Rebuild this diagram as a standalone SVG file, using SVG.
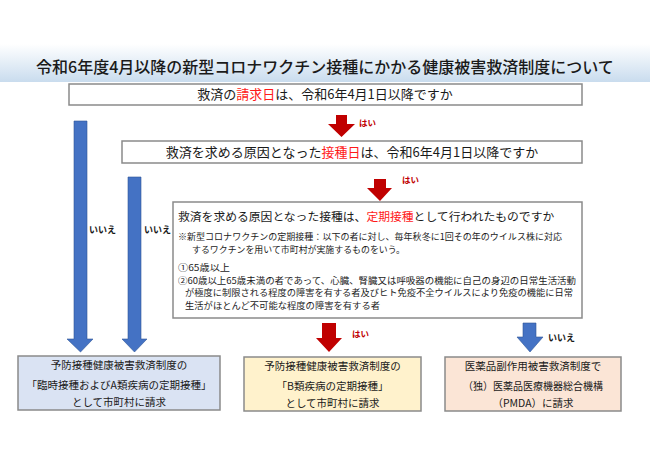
<svg xmlns="http://www.w3.org/2000/svg" width="650" height="459" viewBox="0 0 650 459">
<defs>
<linearGradient id="band" x1="0" y1="0" x2="0" y2="1">
<stop offset="0" stop-color="#ffffff"/>
<stop offset="1" stop-color="#c9dcee"/>
</linearGradient>
</defs>
<style>
text{font-family:"Noto Sans CJK JP","Noto Sans",sans-serif;fill:#1a1a1a}
.box{fill:#ffffff;stroke:#8a8a8a;stroke-width:1.5}
.q{font-size:13px;text-anchor:middle}
.red{fill:#ff1a1a}
.blue{fill:#4472c4;stroke:#2f5597;stroke-width:0.6}
.rarr{fill:#c00000}
.yes{font-size:8.5px;font-weight:700;fill:#c00000}
.no{font-size:9px;font-weight:700;fill:#1a1a1a}
.res{font-size:10.5px;text-anchor:middle}
.note{font-size:8.7px}
</style>
<rect width="650" height="459" fill="#ffffff"/>
<rect x="0" y="44" width="650" height="38" fill="url(#band)"/>
<text x="325" y="73" style="font-size:16px;font-weight:500;text-anchor:middle">令和6年度4月以降の新型コロナワクチン接種にかかる健康被害救済制度について</text>

<g id="q1">
<rect class="box" x="69" y="84" width="513" height="21"/>
<text class="q" x="325" y="99">救済の<tspan class="red">請求日</tspan>は、令和6年4月1日以降ですか</text>
</g>
<g id="q2">
<rect class="box" x="122" y="141" width="460" height="22"/>
<text class="q" x="352" y="157">救済を求める原因となった<tspan class="red">接種日</tspan>は、令和6年4月1日以降ですか</text>
</g>
<g id="q3">
<rect class="box" x="173" y="202" width="409" height="116"/>
<text x="178" y="221" style="font-size:11.8px">救済を求める原因となった接種は、<tspan class="red">定期接種</tspan>として行われたものですか</text>
<text class="note" x="178" y="240" textLength="384" lengthAdjust="spacingAndGlyphs">※新型コロナワクチンの定期接種：以下の者に対し、毎年秋冬に1回その年のウイルス株に対応</text>
<text class="note" x="192" y="253" textLength="213" lengthAdjust="spacingAndGlyphs">するワクチンを用いて市町村が実施するものをいう。</text>
<text class="note" x="178" y="271" textLength="52" lengthAdjust="spacingAndGlyphs">①65歳以上</text>
<text class="note" x="178" y="283.5" textLength="398" lengthAdjust="spacingAndGlyphs">②60歳以上65歳未満の者であって、心臓、腎臓又は呼吸器の機能に自己の身辺の日常生活活動</text>
<text class="note" x="185" y="296" textLength="388" lengthAdjust="spacingAndGlyphs">が極度に制限される程度の障害を有する者及びヒト免疫不全ウイルスにより免疫の機能に日常</text>
<text class="note" x="185" y="308.5" textLength="195" lengthAdjust="spacingAndGlyphs">生活がほとんど不可能な程度の障害を有する者</text>
</g>
<g id="resA">
<rect class="box" x="18" y="356" width="202" height="54" style="fill:#dae3f3"/>
<text class="res" x="119" y="369">予防接種健康被害救済制度の</text>
<text class="res" x="119" y="389">「臨時接種およびA類疾病の定期接種」</text>
<text class="res" x="119" y="406">として市町村に請求</text>
</g>
<g id="resB">
<rect class="box" x="244" y="357" width="177" height="54" style="fill:#fff2cc"/>
<text class="res" x="332.5" y="370">予防接種健康被害救済制度の</text>
<text class="res" x="332.5" y="390">「B類疾病の定期接種」</text>
<text class="res" x="332.5" y="407">として市町村に請求</text>
</g>
<g id="resC">
<rect class="box" x="445" y="357" width="176" height="54" style="fill:#fbe5d6"/>
<text class="res" x="533" y="370">医薬品副作用被害救済制度で</text>
<text class="res" x="533" y="390" textLength="140" lengthAdjust="spacingAndGlyphs">（独）医薬品医療機器総合機構</text>
<text class="res" x="533" y="407">（PMDA）に請求</text>
</g>

<g id="connectors">
<polygon class="blue" points="74,121 87,121 87,339 93,339 80.5,352 67,339 74,339"/>
<polygon class="blue" points="128,177 141,177 141,339 147,339 134.5,352 122,339 128,339"/>
<text class="no" x="89" y="233">いいえ</text>
<text class="no" x="144" y="233">いいえ</text>
<polygon class="rarr" points="336,115 347,115 347,124 355,124 341.5,137 328,124 336,124"/>
<text class="yes" x="359" y="126">はい</text>
<polygon class="rarr" points="374,179 386,179 386,188 392,188 380,201 367,188 374,188"/>
<text class="yes" x="402" y="183">はい</text>
<polygon class="rarr" points="322,323 336,323 336,338 342,338 329,352 316,338 322,338"/>
<text class="yes" x="352" y="337">はい</text>
<polygon class="blue" points="523,323 536,323 536,337 543,337 530,352 517,337 523,337"/>
<text class="no" x="548" y="341">いいえ</text>
</g>
</svg>
